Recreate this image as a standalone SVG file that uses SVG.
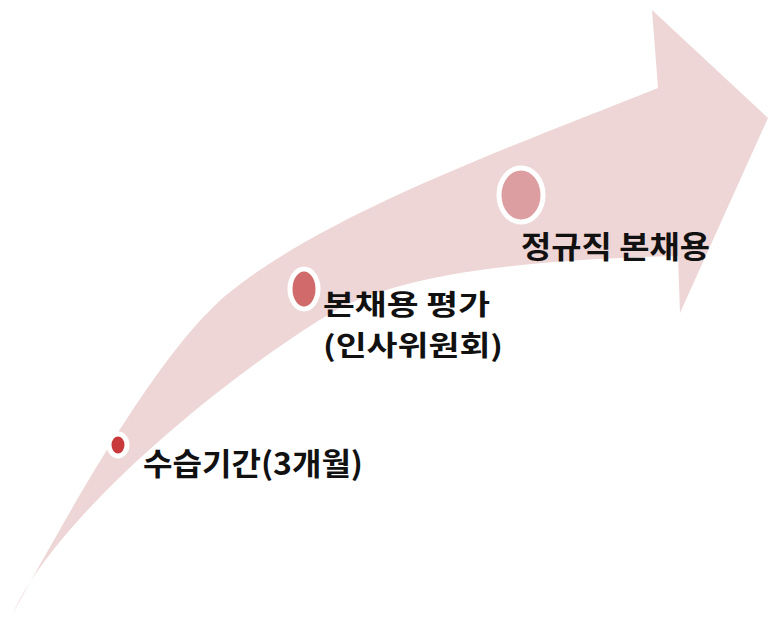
<svg xmlns="http://www.w3.org/2000/svg" width="768" height="618" viewBox="0 0 768 618">
  <style>
    .lbl { font-family: "Noto Sans CJK KR", "Noto Sans", sans-serif; font-weight: 700; font-size: 31px; fill: #111111; }
    .lbl2 { font-size: 28px; }
    .dot { stroke: #ffffff; stroke-width: 5; }
  </style>
  <rect width="768" height="618" fill="#ffffff"/>
  <g id="arrow">
    <path d="M 13,613 C 73,505 160,348 230,292 C 330,212 508,148 658,88 L 652,10 L 768,118 L 680,313 L 678,256 C 560,259 420,268 340,308 C 240,365 60,510 13,613 Z" fill="#eed6d6"/>
  </g>
  <g id="step1">
    <ellipse class="dot" cx="118" cy="445" rx="9" ry="11" fill="#c9393b"/>
    <text class="lbl" x="143" y="475" textLength="220" lengthAdjust="spacingAndGlyphs">수습기간(3개월)</text>
  </g>
  <g id="step2">
    <ellipse class="dot" cx="304" cy="289" rx="14" ry="20" fill="#d06a6b"/>
    <text class="lbl lbl2" x="323" y="315" textLength="167" lengthAdjust="spacingAndGlyphs">본채용 평가</text>
    <text class="lbl lbl2" x="323" y="356" textLength="180" lengthAdjust="spacingAndGlyphs">(인사위원회)</text>
  </g>
  <g id="step3">
    <ellipse class="dot" cx="521" cy="195" rx="22" ry="27" fill="#dc9ea1"/>
    <text class="lbl" x="521" y="258" textLength="189" lengthAdjust="spacingAndGlyphs">정규직 본채용</text>
  </g>
</svg>
